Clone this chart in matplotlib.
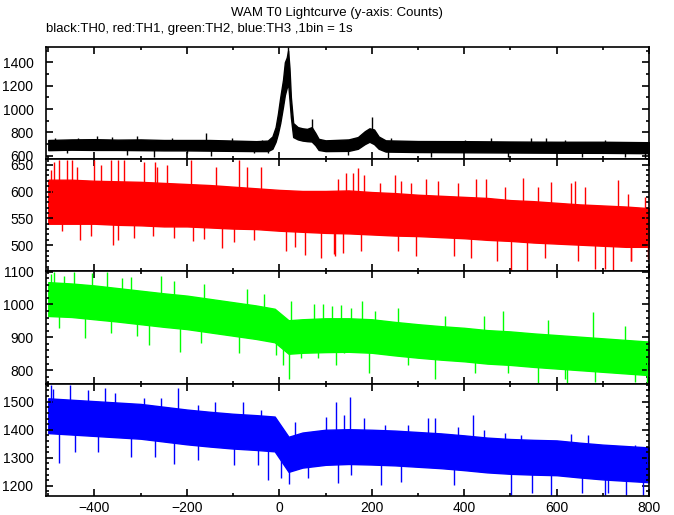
import numpy as np
import matplotlib
matplotlib.use("Agg")
import matplotlib.pyplot as plt
from matplotlib.ticker import MultipleLocator

# TH0 (black): band envelope, finer around the burst
th0_t = [-500, -450, -400, -350, -300, -250, -200, -150, -100, -50, -25, -15, -8, -3,
         2, 8, 12, 16, 19, 22, 25, 30, 40, 50, 60, 70, 78, 85, 100, 150, 170, 185,
         195, 205, 215, 230, 300, 400, 500, 600, 700, 800]
th0_lo = [648, 652, 650, 650, 648, 646, 646, 644, 642, 640, 640, 660, 720, 790,
          880, 1020, 1120, 1180, 1220, 1080, 930, 760, 740, 730, 725, 722, 690, 650, 640, 642, 660, 700,
          720, 700, 660, 636, 632, 630, 628, 626, 625, 622]
th0_hi = [735, 740, 742, 738, 740, 735, 735, 735, 730, 725, 730, 765, 845, 960,
          1100, 1250, 1400, 1440, 1500, 1350, 1100, 880, 845, 835, 830, 845, 795, 745, 732, 740, 760, 810,
          835, 825, 765, 732, 726, 725, 722, 720, 720, 716]
th0_spk_t = [-485, -459, -435, -394, -363, -329, -307, -271, -233, -199, -159, -148, -103, -54,
             -38, -25, 19, 71, 148, 200, 235, 242, 329, 401, 459, 495, 545, 578, 618,
             654, 704, 748, 762, 791]
th0_spk_v = [749, 620, 749, 765, 763, 606, 771, 591, 749, 620, 791, 595, 749, 620,
             734, 620, 1528, 911, 606, 929, 577, 749, 591, 734, 749, 591, 748, 750, 734,
             591, 734, 591, 720, 578]

# TH1 (red)
th1_t = [-500, -450, -400, -350, -300, -250, -200, -150, -100, -50, 0, 50, 100, 150,
         200, 250, 300, 350, 400, 450, 500, 550, 600, 650, 700, 750, 800]
th1_lo = [540, 540, 540, 538, 537, 535, 535, 533, 531, 530, 527, 525, 523, 522,
          520, 518, 517, 515, 513, 510, 508, 505, 503, 501, 499, 497, 497]
th1_hi = [622, 622, 620, 619, 618, 616, 614, 612, 609, 606, 603, 601, 601, 602,
          599, 597, 594, 592, 590, 588, 584, 582, 579, 576, 574, 572, 569]
th1_spk_t = [-495, -488, -477, -470, -459, -448, -437, -431, -408, -401, -386, -364, -361,
             -350, -349, -336, -314, -293, -274, -270, -264, -242, -228, -191, -186, -163,
             -137, -123, -98, -87, -69, -54, -40, 14, 33, 56, 90, 119, 121, 127, 137, 144,
             159, 170, 177, 184, 217, 250, 257, 264, 286, 296, 318, 343, 379, 387, 415,
             426, 448, 470, 488, 502, 528, 535, 560, 575, 589, 632, 640, 647, 661, 683,
             704, 723, 732, 755, 760, 762, 791, 798]
th1_spk_v = [640, 655, 659, 527, 659, 659, 645, 509, 518, 659, 650, 659, 500,
             510, 659, 659, 513, 655, 518, 655, 645, 650, 513, 659, 508, 512,
             645, 494, 506, 659, 645, 509, 645, 489, 496, 482, 477, 483, 480, 624, 486, 634,
             634, 643, 489, 630, 615, 630, 489, 620, 615, 480, 624, 620, 480, 615, 477,
             624, 624, 470, 609, 452, 625, 449, 609, 477, 618, 615, 620, 470, 609, 455,
             455, 452, 621, 596, 470, 470, 590, 474]

# TH2 (green)
th2_t = [-500, -450, -400, -350, -300, -250, -200, -150, -100, -50, -10, 20, 50, 100,
         150, 200, 250, 300, 350, 400, 450, 500, 550, 600, 650, 700, 750, 800]
th2_lo = [965, 962, 955, 948, 940, 932, 925, 915, 905, 895, 885, 850, 853, 855,
          856, 853, 845, 838, 832, 827, 820, 816, 810, 805, 800, 795, 790, 785]
th2_hi = [1068, 1064, 1058, 1050, 1042, 1034, 1027, 1017, 1007, 997, 987, 952, 955, 958,
          958, 955, 947, 940, 934, 929, 922, 918, 912, 907, 902, 897, 892, 887]
th2_spk_t = [-495, -488, -477, -466, -445, -420, -405, -372, -365, -340, -322, -307, -282,
             -257, -228, -216, -170, -163, -87, -69, -33, -7, 7, 20, 25, 47, 76, 83, 94,
             115, 123, 134, 141, 155, 179, 193, 206, 256, 278, 336, 358, 423, 444, 484,
             495, 560, 582, 618, 622, 679, 683, 748, 770, 795]
th2_spk_v = [1092, 1100, 928, 1087, 1100, 897, 1095, 1098, 913, 1080, 1085, 903, 877,
             1087, 1072, 854, 882, 1061, 851, 1046, 1031, 846, 817, 774, 1010, 836, 1000, 836, 1000,
             995, 817, 998, 851, 990, 1012, 790, 979, 990, 815, 774, 964, 790, 964, 979,
             790, 759, 954, 774, 759, 977, 764, 933, 764, 759]

# TH3 (blue)
th3_t = [-500, -450, -400, -350, -300, -250, -200, -150, -100, -50, -10, 20, 50, 100,
         150, 200, 250, 300, 350, 400, 450, 500, 550, 600, 650, 700, 750, 800]
th3_lo = [1388, 1383, 1378, 1373, 1368, 1358, 1348, 1340, 1333, 1328, 1323, 1250, 1265, 1275,
          1278, 1276, 1273, 1268, 1263, 1256, 1248, 1243, 1240, 1238, 1230, 1223, 1218, 1213]
th3_hi = [1512, 1507, 1502, 1497, 1492, 1482, 1472, 1464, 1457, 1452, 1447, 1375, 1390, 1400,
          1402, 1400, 1397, 1392, 1387, 1380, 1372, 1367, 1364, 1362, 1354, 1347, 1342, 1337]
th3_spk_t = [-495, -489, -477, -454, -442, -413, -392, -378, -356, -320, -292, -270, -256,
             -227, -220, -177, -176, -140, -97, -78, -46, -39, -24, 4, 22, 33, 61, 101,
             123, 126, 141, 154, 155, 184, 220, 228, 264, 278, 321, 336, 379, 386, 419,
             444, 488, 501, 524, 546, 589, 632, 654, 668, 705, 712, 751, 769, 787, 795]
th3_spk_v = [1559, 1547, 1281, 1559, 1322, 1541, 1322, 1550, 1530, 1304, 1512, 1304, 1512,
             1277, 1550, 1292, 1488, 1500, 1275, 1500, 1275, 1470, 1221, 1227, 1206, 1429, 1227, 1447,
             1500, 1210, 1453, 1518, 1239, 1441, 1203, 1417, 1215, 1417, 1441, 1443, 1203, 1410, 1453,
             1399, 1387, 1168, 1380, 1174, 1168, 1385, 1174, 1381, 1168, 1175, 1168, 1346, 1168, 1310]

panels = [
    (th0_t, th0_lo, th0_hi, th0_spk_t, th0_spk_v, "black", (570, 1528), 200, 100),
    (th1_t, th1_lo, th1_hi, th1_spk_t, th1_spk_v, "#ff0000", (452, 660), 50, 10),
    (th2_t, th2_lo, th2_hi, th2_spk_t, th2_spk_v, "#00ff00", (757, 1102), 100, 20),
    (th3_t, th3_lo, th3_hi, th3_spk_t, th3_spk_v, "#0000ff", (1165, 1562), 100, 20),
]

plt.rcParams["font.family"] = ["Liberation Sans", "DejaVu Sans"]
fig = plt.figure(figsize=(6.74, 5.15), dpi=100)

edges = [0.9082, 0.6907, 0.4738, 0.2538, 0.0375]
left, width = 0.0682, 0.8947

for i, (t, lo, hi, st, sv, col, ylim, major, minor) in enumerate(panels):
    ax = fig.add_axes([left, edges[i + 1], width, edges[i] - edges[i + 1]])
    t = np.array(t)
    lo = np.array(lo)
    hi = np.array(hi)
    ax.fill_between(t, lo, hi, color=col, lw=1.0, edgecolor=col)
    mid = np.interp(st, t, (lo + hi) / 2)
    ax.vlines(st, mid, sv, color=col, lw=1.0)
    ax.set_xlim(-505, 800)
    ax.set_ylim(*ylim)
    ax.xaxis.set_major_locator(MultipleLocator(200))
    ax.xaxis.set_minor_locator(MultipleLocator(100))
    ax.yaxis.set_major_locator(MultipleLocator(major))
    ax.yaxis.set_minor_locator(MultipleLocator(minor))
    ax.tick_params(which="both", direction="in", top=True, right=True,
                   width=1.2, labelsize=10, color="black")
    ax.tick_params(which="major", length=5)
    ax.tick_params(which="minor", length=2.5)
    ax.tick_params(axis="y", pad=9)
    ax.tick_params(axis="x", pad=4)
    for s in ax.spines.values():
        s.set_linewidth(1.2)
    if i < 3:
        ax.tick_params(labelbottom=False)
    ax.set_yticklabels([str(int(v)) for v in ax.get_yticks()])

fig.text(0.5, 0.975, "WAM T0 Lightcurve (y-axis: Counts)", ha="center", va="center", fontsize=9.5)
fig.text(left, 0.943, "black:TH0, red:TH1, green:TH2, blue:TH3 ,1bin = 1s", ha="left",
         va="center", fontsize=9.5)

fig.savefig("out.png", dpi=100)
